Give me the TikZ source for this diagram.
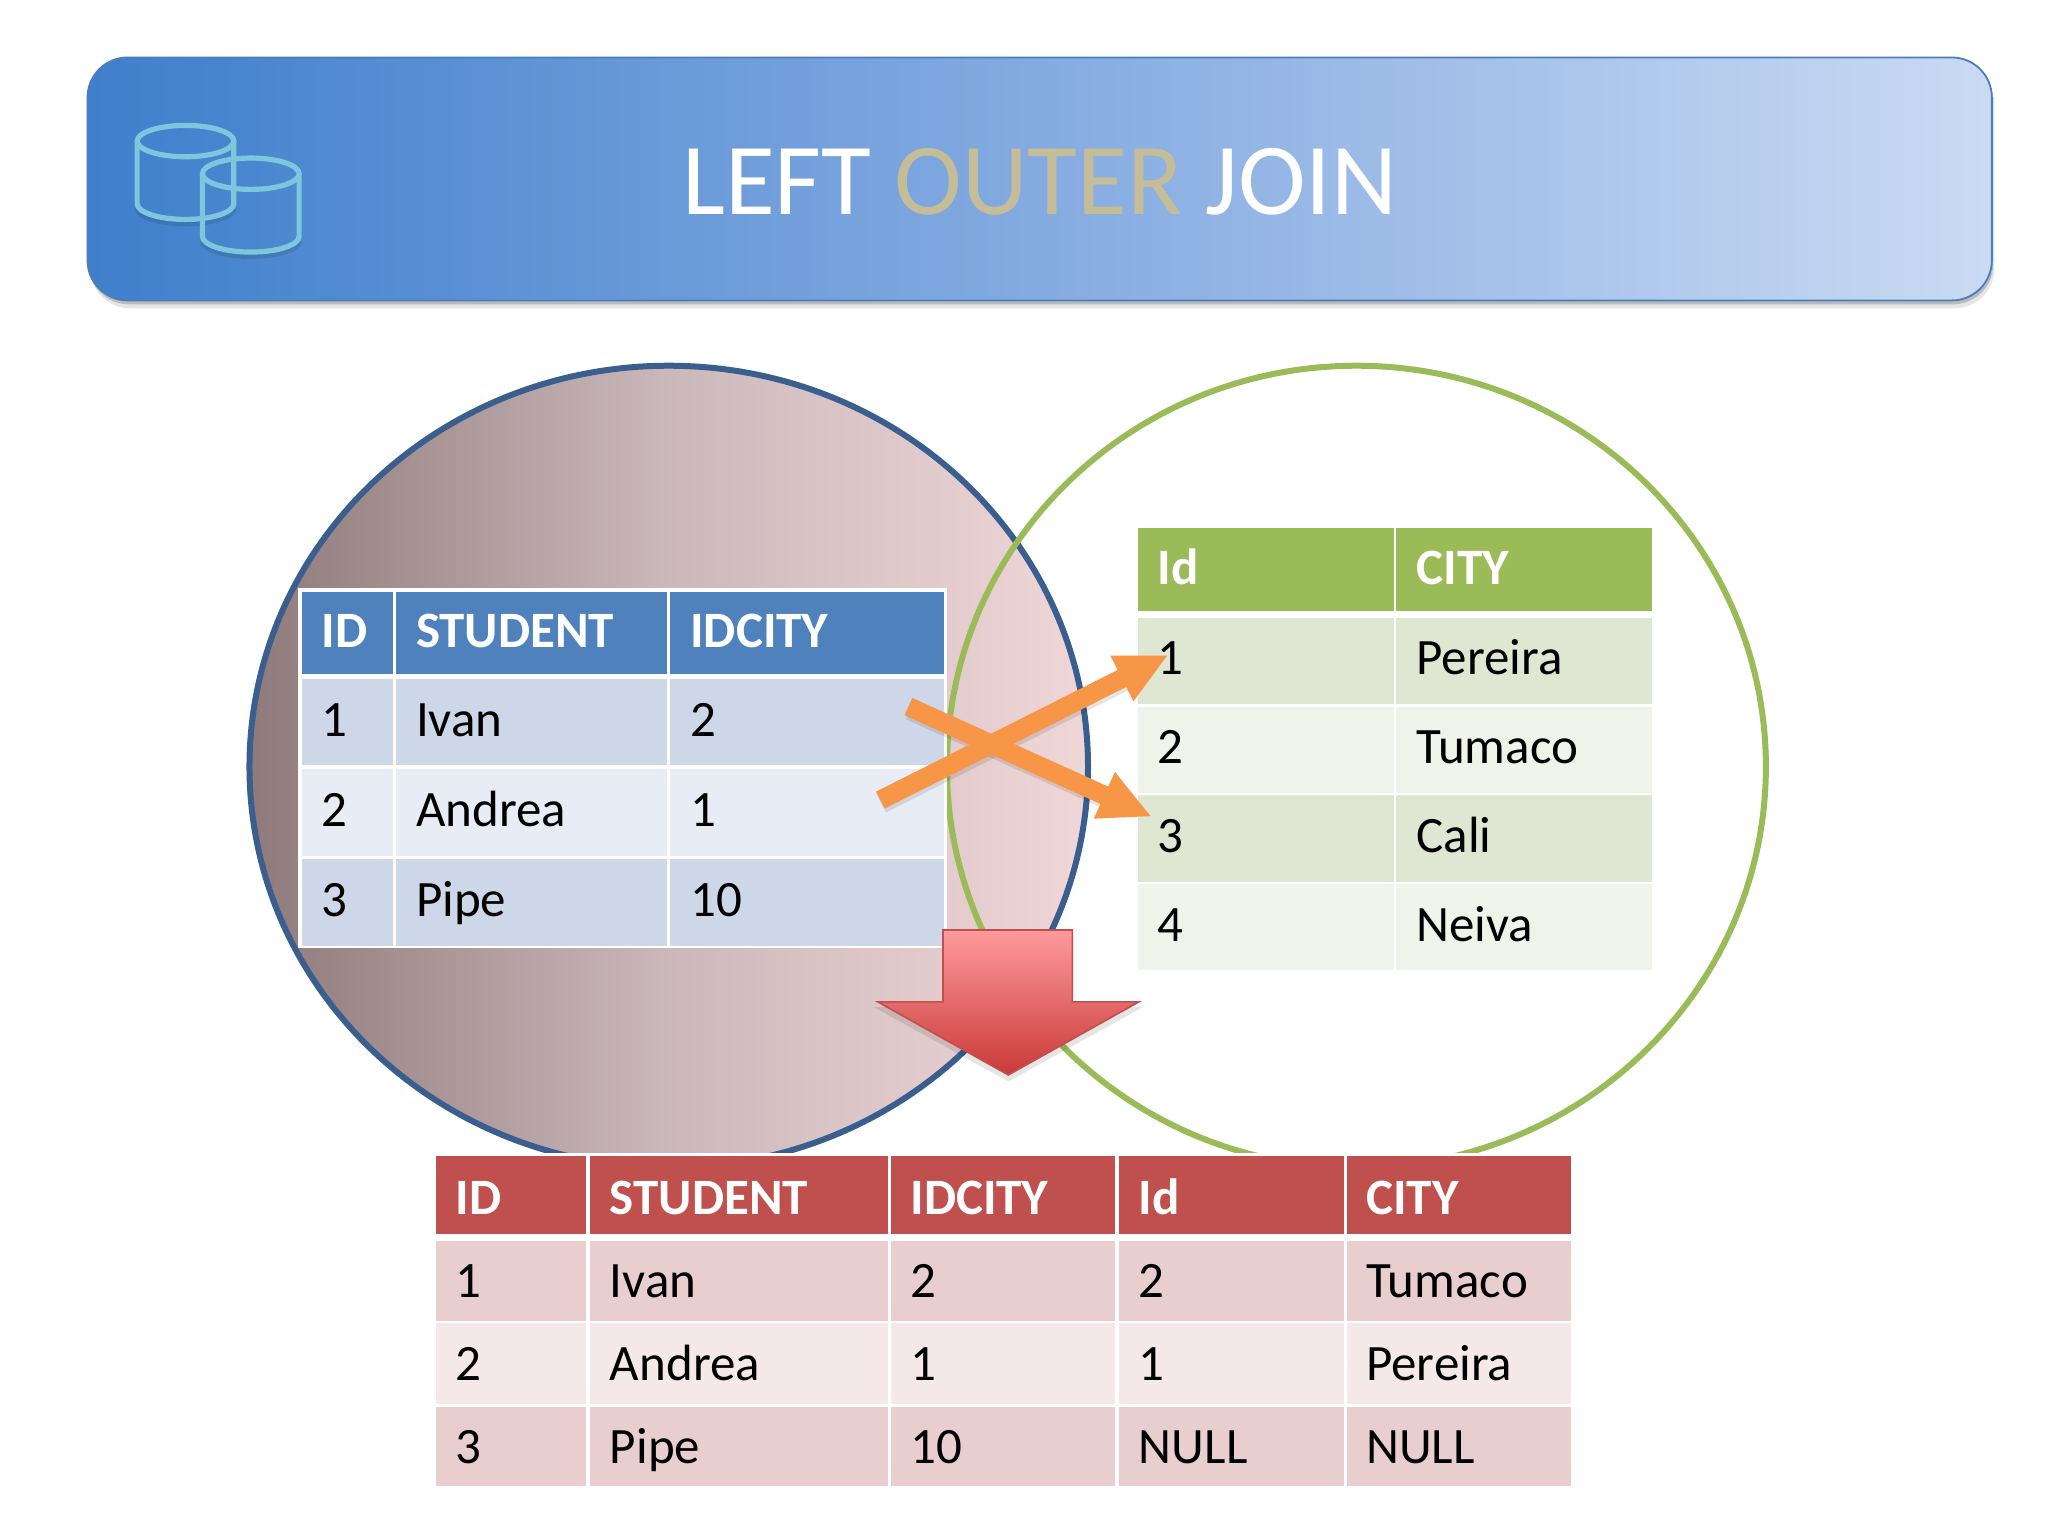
\documentclass[tikz,border=0pt]{standalone}
\usepackage{fontspec}
\setmainfont{Carlito}
\usetikzlibrary{shapes.geometric,arrows.meta,calc}
\pgfdeclarelayer{toptext}
\pgfsetlayers{main,toptext}
\definecolor{bannerL}{HTML}{3F7FCC}
\definecolor{bannerM}{HTML}{84ABE1}
\definecolor{bannerR}{HTML}{CADAF3}
\definecolor{bannerB}{HTML}{4A7EBB}
\definecolor{cyl}{HTML}{7EC6DC}
\definecolor{outerc}{HTML}{C4BD97}
\definecolor{blueH}{HTML}{4F81BD}
\definecolor{blueA}{HTML}{CDD7E8}
\definecolor{blueB}{HTML}{E8ECF4}
\definecolor{greenH}{HTML}{9BBB59}
\definecolor{greenA}{HTML}{DFE6D2}
\definecolor{greenB}{HTML}{EFF3EA}
\definecolor{redH}{HTML}{C0504D}
\definecolor{redA}{HTML}{E8CECF}
\definecolor{redB}{HTML}{F4E8E9}
\definecolor{orangeA}{HTML}{F79646}
\definecolor{circB}{HTML}{3A5F8F}
\definecolor{circG}{HTML}{9BBB59}
\definecolor{lcL}{HTML}{8E7A7A}
\definecolor{lcM}{HTML}{CBB8BB}
\definecolor{lcR}{HTML}{F0D6D7}
\definecolor{rarrT}{HTML}{FF9A9C}
\definecolor{rarrB}{HTML}{C93A38}
\tikzset{
  x=0.653061pt,y=-0.653061pt,
  celltext/.style={anchor=base west,inner sep=0pt,outer sep=0pt,font=\fontsize{25.5}{29}\selectfont},
  orangearrow/.style={draw=orangeA,line width=9.5pt,-{Triangle[length=26pt,width=23.5pt]}},
  cylstroke/.style={draw=cyl,line width=2.6pt},
}
\newcommand{\baseadj}{0}
\newcommand{\textadj}{15.5}
% name x0 y0 x1 y1 fill textcolor text
\newcommand{\tcell}[8]{%
  \fill[#6] (#2,#3) rectangle (#4,#5);
  \begin{pgfonlayer}{toptext}
  \node[celltext,text=#7] (#1) at ({#2+\textadj},{(#3+#5)/2+12.5+\baseadj}) {#8};
  \end{pgfonlayer}
}
\newcommand{\hcell}[6]{\tcell{#1}{#2}{#3}{#4}{#5}{#6}{white}}
\newcommand{\cylinder}[2]{%
  \begin{scope}[shift={(#1,#2)}]
    \draw[black,opacity=.10,line width=3pt] (0,64) arc[start angle=180,end angle=0,x radius=37,y radius=12];
    \draw[cylstroke] (0,13) -- (0,61) arc[start angle=180,end angle=0,x radius=37,y radius=12] -- (74,13);
    \draw[cylstroke] (37,13) ellipse[x radius=37,y radius=12];
  \end{scope}
}
\begin{document}
\begin{tikzpicture}
\useasboundingbox (0,0) rectangle (1568,1176);
\fill[white] (0,0) rectangle (1568,1176);
% banner
\fill[black,opacity=.10,rounded corners=20pt] (69,50) rectangle (1527,236);
\fill[black,opacity=.18,rounded corners=20pt] (68,47) rectangle (1526,233);
\shade[left color=bannerL,right color=bannerR,middle color=bannerM,rounded corners=20pt] (67,44) rectangle (1525,230);
\draw[bannerB,line width=.9pt,rounded corners=20pt] (67,44) rectangle (1525,230);
\cylinder{105}{95}
\cylinder{155}{120}
\node[anchor=base,inner sep=0pt,text=white,font=\fontsize{51}{58}\selectfont] (title) at (796,164) {LEFT \textcolor{outerc}{OUTER} JOIN};
% circles
\path[left color=lcL,right color=lcR,middle color=lcM] (512,587) ellipse[x radius=321,y radius=307];
\draw[circB,line width=3pt] (512,587) ellipse[x radius=321,y radius=307];
\draw[circG,line width=3pt] (1038.5,587) ellipse[x radius=313.5,y radius=307];
% left table
\fill[white] (228,450) rectangle (725,726);
\renewcommand{\baseadj}{-1.5}
\hcell{a1}{231}{453}{301}{516}{blueH}{\textbf{ID}}
\hcell{a2}{303}{453}{511}{516}{blueH}{\textbf{STUDENT}}
\hcell{a3}{513}{453}{723}{516}{blueH}{\textbf{IDCITY}}
\tcell{b1}{231}{520}{301}{586}{blueA}{black}{1}
\tcell{b2}{303}{520}{511}{586}{blueA}{black}{Ivan}
\tcell{b3}{513}{520}{723}{586}{blueA}{black}{2}
\tcell{c1}{231}{589}{301}{655}{blueB}{black}{2}
\tcell{c2}{303}{589}{511}{655}{blueB}{black}{Andrea}
\tcell{c3}{513}{589}{723}{655}{blueB}{black}{1}
\tcell{d1}{231}{658}{301}{724}{blueA}{black}{3}
\tcell{d2}{303}{658}{511}{724}{blueA}{black}{Pipe}
\tcell{d3}{513}{658}{723}{724}{blueA}{black}{10}
% right table
\renewcommand{\baseadj}{-1}
\hcell{e1}{871}{404}{1067}{468}{greenH}{\textbf{Id}}
\hcell{e2}{1069}{404}{1265}{468}{greenH}{\textbf{CITY}}
\renewcommand{\baseadj}{-2}
\tcell{f1}{871}{473}{1067}{539}{greenA}{black}{1}
\tcell{f2}{1069}{473}{1265}{539}{greenA}{black}{Pereira}
\tcell{g1}{871}{541}{1067}{607}{greenB}{black}{2}
\tcell{g2}{1069}{541}{1265}{607}{greenB}{black}{Tumaco}
\tcell{h1}{871}{609}{1067}{675}{greenA}{black}{3}
\tcell{h2}{1069}{609}{1265}{675}{greenA}{black}{Cali}
\tcell{i1}{871}{677}{1067}{743}{greenB}{black}{4}
\tcell{i2}{1069}{677}{1265}{743}{greenB}{black}{Neiva}
% orange arrows
\coordinate (s1) at (695.5,541);
\coordinate (t1) at (881.8,625.3);
\coordinate (s2) at (674,612.6);
\coordinate (t2) at (894.5,501.5);
\draw[black,opacity=.10,line width=9.5pt,shorten >=26pt] ($(s1)+(1,3)$) -- ($(t1)+(1,3)$);
\draw[black,opacity=.10,line width=9.5pt,shorten >=26pt] ($(s2)+(1,3)$) -- ($(t2)+(1,3)$);
\draw[orangearrow] (s1) -- (t1);
\draw[orangearrow] (s2) -- (t2);
% red block arrow
\fill[black,opacity=.10] (722,716) -- (821,716) -- (821,771) -- (875,771) -- (772,828) -- (669,771) -- (722,771) -- cycle;
\shade[top color=rarrT,bottom color=rarrB,draw=redH,line width=.8pt] (722,712) -- (821,712) -- (821,767) -- (872,767) -- (772,823) -- (672,767) -- (722,767) -- cycle;
% result table
\fill[white] (332,883) rectangle (1205,1140);
\renewcommand{\textadj}{15}
\renewcommand{\baseadj}{2.5}
\hcell{j1}{334}{885}{449}{945}{redH}{\textbf{ID}}
\hcell{j2}{452}{885}{680}{945}{redH}{\textbf{STUDENT}}
\hcell{j3}{682}{885}{854}{945}{redH}{\textbf{IDCITY}}
\hcell{j4}{857}{885}{1029}{945}{redH}{\textbf{Id}}
\hcell{j5}{1031}{885}{1203}{945}{redH}{\textbf{CITY}}
\renewcommand{\baseadj}{0.5}
\tcell{k1}{334}{950}{449}{1011}{redA}{black}{1}
\tcell{k2}{452}{950}{680}{1011}{redA}{black}{Ivan}
\tcell{k3}{682}{950}{854}{1011}{redA}{black}{2}
\tcell{k4}{857}{950}{1029}{1011}{redA}{black}{2}
\tcell{k5}{1031}{950}{1203}{1011}{redA}{black}{Tumaco}
\tcell{l1}{334}{1013}{449}{1075}{redB}{black}{2}
\tcell{l2}{452}{1013}{680}{1075}{redB}{black}{Andrea}
\tcell{l3}{682}{1013}{854}{1075}{redB}{black}{1}
\tcell{l4}{857}{1013}{1029}{1075}{redB}{black}{1}
\tcell{l5}{1031}{1013}{1203}{1075}{redB}{black}{Pereira}
\tcell{m1}{334}{1077}{449}{1138}{redA}{black}{3}
\tcell{m2}{452}{1077}{680}{1138}{redA}{black}{Pipe}
\tcell{m3}{682}{1077}{854}{1138}{redA}{black}{10}
\tcell{m4}{857}{1077}{1029}{1138}{redA}{black}{NULL}
\tcell{m5}{1031}{1077}{1203}{1138}{redA}{black}{NULL}
\end{tikzpicture}
\end{document}
